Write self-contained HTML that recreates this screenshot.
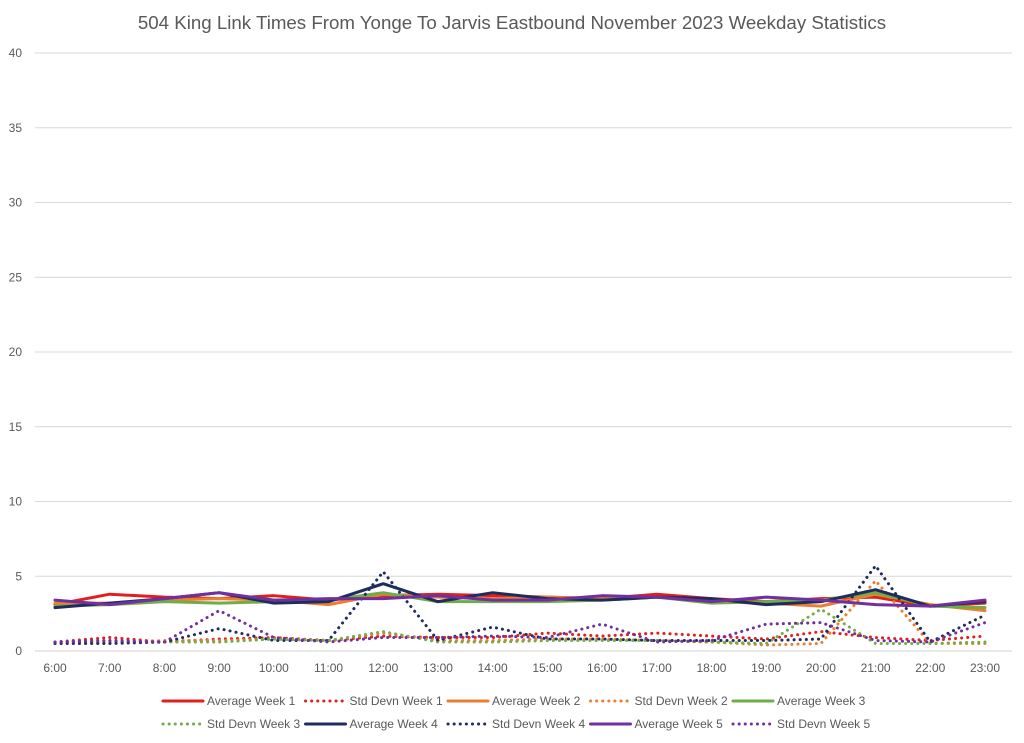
<!DOCTYPE html>
<html><head><meta charset="utf-8"><style>
html,body{margin:0;padding:0;background:#fff;width:1024px;height:743px;overflow:hidden}
svg text{font-family:"Liberation Sans",sans-serif;fill:#595959}
</style></head><body>
<svg id="chart" width="1024" height="743" xmlns="http://www.w3.org/2000/svg">
<text x="512" y="29" text-anchor="middle" font-size="18.7">504 King Link Times From Yonge To Jarvis Eastbound November 2023 Weekday Statistics</text>
<g id="grid"></g><g id="axes"></g><g id="series"></g><g id="legend"></g>
</svg>
<script>
const categories=["6:00","7:00","8:00","9:00","10:00","11:00","12:00","13:00","14:00","15:00","16:00","17:00","18:00","19:00","20:00","21:00","22:00","23:00"];
const yTicks=[0,5,10,15,20,25,30,35,40];
const avg1=[3.1,3.8,3.6,3.5,3.7,3.4,3.7,3.8,3.7,3.6,3.5,3.8,3.5,3.3,3.5,3.6,3.0,3.2];
const sd1=[0.6,0.9,0.6,0.8,0.9,0.7,1.0,0.9,0.9,1.2,1.0,1.2,1.0,0.8,1.3,0.9,0.7,1.0];
const avg2=[3.2,3.2,3.4,3.5,3.4,3.1,3.8,3.6,3.5,3.6,3.5,3.6,3.3,3.2,3.0,3.8,3.1,2.7];
const sd2=[0.6,0.6,0.7,0.7,0.8,0.7,1.2,0.7,0.7,0.8,0.8,0.7,0.6,0.4,0.5,4.7,0.5,0.5];
const avg3=[3.0,3.1,3.3,3.2,3.3,3.4,3.9,3.3,3.3,3.3,3.4,3.6,3.2,3.3,3.4,3.9,3.0,2.9];
const sd3=[0.6,0.6,0.6,0.6,0.8,0.7,1.3,0.6,0.6,0.7,0.7,0.7,0.6,0.5,2.8,0.5,0.5,0.6];
const avg4=[2.9,3.2,3.5,3.9,3.2,3.3,4.5,3.3,3.9,3.5,3.4,3.6,3.5,3.1,3.3,4.1,3.0,3.3];
const sd4=[0.5,0.5,0.6,1.5,0.7,0.7,5.3,0.7,1.6,0.8,0.8,0.7,0.7,0.7,0.8,5.7,0.6,2.4];
const avg5=[3.4,3.1,3.5,3.9,3.4,3.5,3.5,3.7,3.4,3.4,3.7,3.6,3.3,3.6,3.4,3.1,3.0,3.4];
const sd5=[0.6,0.7,0.6,2.7,0.9,0.6,0.9,0.9,1.0,0.9,1.8,0.6,0.7,1.8,1.9,0.7,0.6,1.9];
const seriesNames=["Average Week 1","Std Devn Week 1","Average Week 2","Std Devn Week 2","Average Week 3","Std Devn Week 3","Average Week 4","Std Devn Week 4","Average Week 5","Std Devn Week 5"];

const NS="http://www.w3.org/2000/svg";
const x0=55,x1=985,yBase=651,yTop=53,yMax=40,left=35,right=1012;
const xs=i=>x0+i*(x1-x0)/(categories.length-1);
const ys=v=>yBase-v*(yBase-yTop)/yMax;
function mk(tag,parent,attrs){const e=document.createElementNS(NS,tag);for(const k in attrs)e.setAttribute(k,attrs[k]);parent.appendChild(e);return e;}
const grid=document.getElementById('grid'),axes=document.getElementById('axes'),ser=document.getElementById('series'),leg=document.getElementById('legend');
yTicks.forEach(t=>{
 const l=mk('line',grid,{x1:left,x2:right,y1:ys(t),y2:ys(t),stroke:t===0?'#d0d0d0':'#d9d9d9','stroke-width':1});
 
 
 const tx=mk('text',axes,{x:22,y:ys(t)+4,'text-anchor':'end','font-size':12});
 tx.textContent=t;
 
 
});
categories.forEach((c,i)=>{
 const tx=mk('text',axes,{x:xs(i),y:672,'text-anchor':'middle','font-size':12});
 tx.textContent=c;
 
 
});
const data=[avg1,sd1,avg2,sd2,avg3,sd3,avg4,sd4,avg5,sd5];
const colors=["#e0201c","#e0201c","#ed7d31","#ed7d31","#70ad47","#70ad47","#1f2d5e","#1f2d5e","#7030a0","#7030a0"];
data.forEach((arr,s)=>{
 const dotted=s%2===1;
 const p=mk('polyline',ser,{points:arr.map((v,i)=>xs(i)+','+ys(v)).join(' '),fill:'none',stroke:colors[s],'stroke-width':3,'stroke-linejoin':'round','stroke-linecap':'round'});
 if(dotted){p.setAttribute('stroke-dasharray','0.1 6');}
 
 
});
seriesNames.forEach((n,s)=>{
 const row=s<5?0:1,col=s%5;
 const lx=163+col*142.5,ly=row?724:701;
 const g=mk('g',leg,{});
 
 
 const l=mk('line',g,{x1:lx,x2:lx+40,y1:ly,y2:ly,stroke:colors[s],'stroke-width':3,'stroke-linecap':'round'});
 if(s%2===1)l.setAttribute('stroke-dasharray','0.1 6');
 const t=mk('text',g,{x:lx+44,y:ly+4,'font-size':12});
 t.textContent=n;
});
</script>
</body></html>
